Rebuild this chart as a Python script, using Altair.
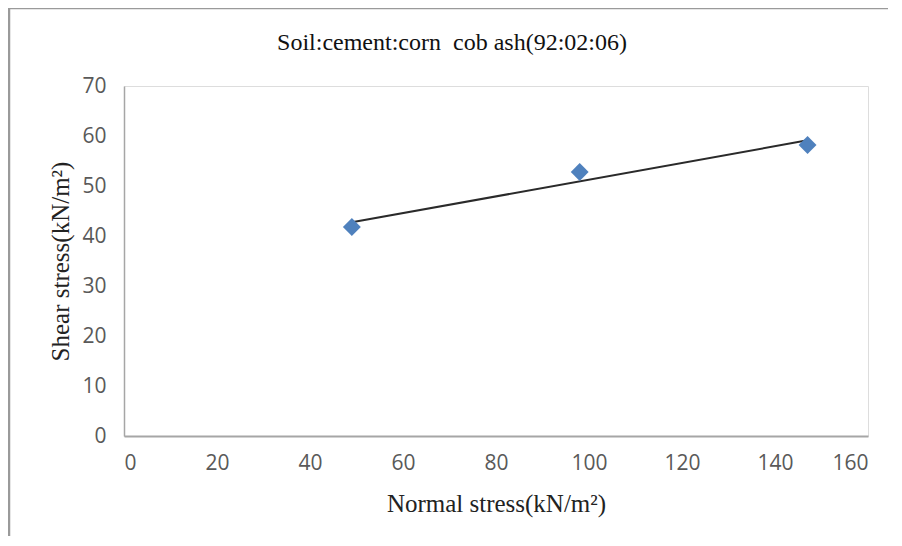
import altair as alt
import pandas as pd

normal_stress = [49, 98, 147]
shear_stress = [41.8, 52.8, 58.2]
x_ticks = [0, 20, 40, 60, 80, 100, 120, 140, 160]
y_ticks = [0, 10, 20, 30, 40, 50, 60, 70]
title_text = ["Soil:cement:corn\u00a0 cob ash(92:02:06)"]

df = pd.DataFrame({"x": normal_stress, "y": shear_stress})

xs = alt.Scale(domain=[0, 160], nice=False)
ys = alt.Scale(domain=[0, 70], nice=False)

xax = alt.Axis(values=x_ticks, grid=False, ticks=False, domainColor="#a6a6a6", domainWidth=2,
               labelFont="Open Sans", labelFontSize=21, labelColor="#595959", labelPadding=16,
               titleFont="Liberation Serif", titleFontSize=25, titleFontWeight="normal",
               titleColor="#222222", titlePadding=18)
yax = alt.Axis(values=y_ticks, grid=False, ticks=False, domainColor="#a6a6a6", domainWidth=1.5,
               labelFont="Open Sans", labelFontSize=21, labelColor="#595959", labelPadding=18,
               titleFont="Liberation Serif", titleFontSize=25, titleFontWeight="normal",
               titleColor="#222222", titlePadding=8)

base = alt.Chart(df)

points = base.mark_point(shape="diamond", filled=True, size=320, color="#4F81BD", opacity=1).encode(
    x=alt.X("x:Q", scale=xs, axis=xax, title="Normal stress(kN/m²)"),
    y=alt.Y("y:Q", scale=ys, axis=yax, title="Shear stress(kN/m²)"),
)

trend = base.transform_regression("x", "y").mark_line(color="#2a2a2a", strokeWidth=2).encode(
    x=alt.X("x:Q", scale=xs), y=alt.Y("y:Q", scale=ys)
)

one = pd.DataFrame({"t": title_text})

frame_v = alt.Chart(one).mark_rule(color="#9a9a9a", strokeWidth=2.5, clip=False).encode(
    x=alt.value(-115), y=alt.value(-78), y2=alt.value(470)
)
frame_h = alt.Chart(one).mark_rule(color="#9a9a9a", strokeWidth=2.5, clip=False).encode(
    x=alt.value(-115), x2=alt.value(900), y=alt.value(-78)
)

title = alt.Chart(one).mark_text(font="Liberation Serif", fontSize=24, color="#111111",
                                 align="center", baseline="middle", clip=False).encode(
    text="t:N", x=alt.value(328), y=alt.value(-43)
)

chart = alt.layer(frame_v, frame_h, title, trend, points).properties(
    width=744, height=350,
    autosize=alt.AutoSizeParams(type="none"),
    padding={"left": 116, "top": 78, "right": 20, "bottom": 100},
).configure_view(stroke=None).configure(background="white")

chart.save("out.html", embed_options={"renderer": "svg", "actions": False})
